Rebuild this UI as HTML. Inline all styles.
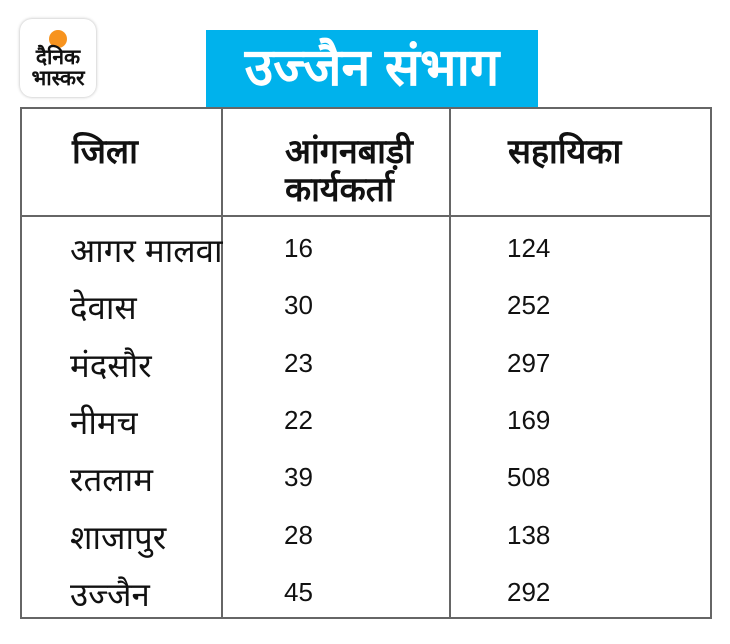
<!DOCTYPE html>
<html><head><meta charset="utf-8"><style>
body{margin:0;width:730px;height:644px;background:#fff;position:relative;overflow:hidden;font-family:"Liberation Sans",sans-serif;}
.logo{position:absolute;left:20px;top:19px;width:76px;height:78px;border-radius:12px;background:#fff;box-shadow:0 0 3px rgba(0,0,0,.3);text-align:center;}
.dot{position:absolute;left:29px;top:11px;width:18px;height:18px;border-radius:50%;background:#f7931e;}
.lt{position:absolute;left:0;width:76px;top:28px;font-weight:bold;font-size:21px;line-height:21px;color:#111;}
.title{position:absolute;left:206px;top:30px;width:332px;height:77px;background:#00b2ec;color:#fff;font-weight:bold;font-size:52px;line-height:77px;text-align:center;}
.tb{position:absolute;left:20px;top:107px;width:688px;height:508px;border:2px solid #666;}
.v{position:absolute;top:0;bottom:0;width:2px;background:#666;}
.h{position:absolute;left:0;right:0;top:106px;height:2px;background:#666;}
.t{position:absolute;font-size:26px;color:#111;white-space:nowrap;}
.d{font-size:33px;}
.b{font-weight:bold;font-size:34px;line-height:38px;}
</style></head><body>
<div class="logo"><div class="dot"></div><div class="lt">दैनिक<br>भास्कर</div></div>
<div class="title">उज्जैन संभाग</div>
<div class="tb">
<div class="v" style="left:199px"></div><div class="v" style="left:427px"></div><div class="h"></div>
<div class="t b" style="left:50px;top:24px">जिला</div>
<div class="t b" style="left:263px;top:24px">आंगनबाड़ी<br>कार्यकर्ता</div>
<div class="t b" style="left:486px;top:24px">सहायिका</div>
</div>
<div id="rows"></div>
<script>
var d=[["आगर मालवा",16,124],["देवास",30,252],["मंदसौर",23,297],["नीमच",22,169],["रतलाम",39,508],["शाजापुर",28,138],["उज्जैन",45,292]];
var h="";d.forEach(function(r,i){var y=233+i*57.3;
h+='<div class="t d" style="left:70px;top:'+(y-6)+'px">'+r[0]+'</div><div class="t" style="left:284px;top:'+y+'px">'+r[1]+'</div><div class="t" style="left:507px;top:'+y+'px">'+r[2]+'</div>';});
document.getElementById("rows").innerHTML=h;
</script>
</body></html>
